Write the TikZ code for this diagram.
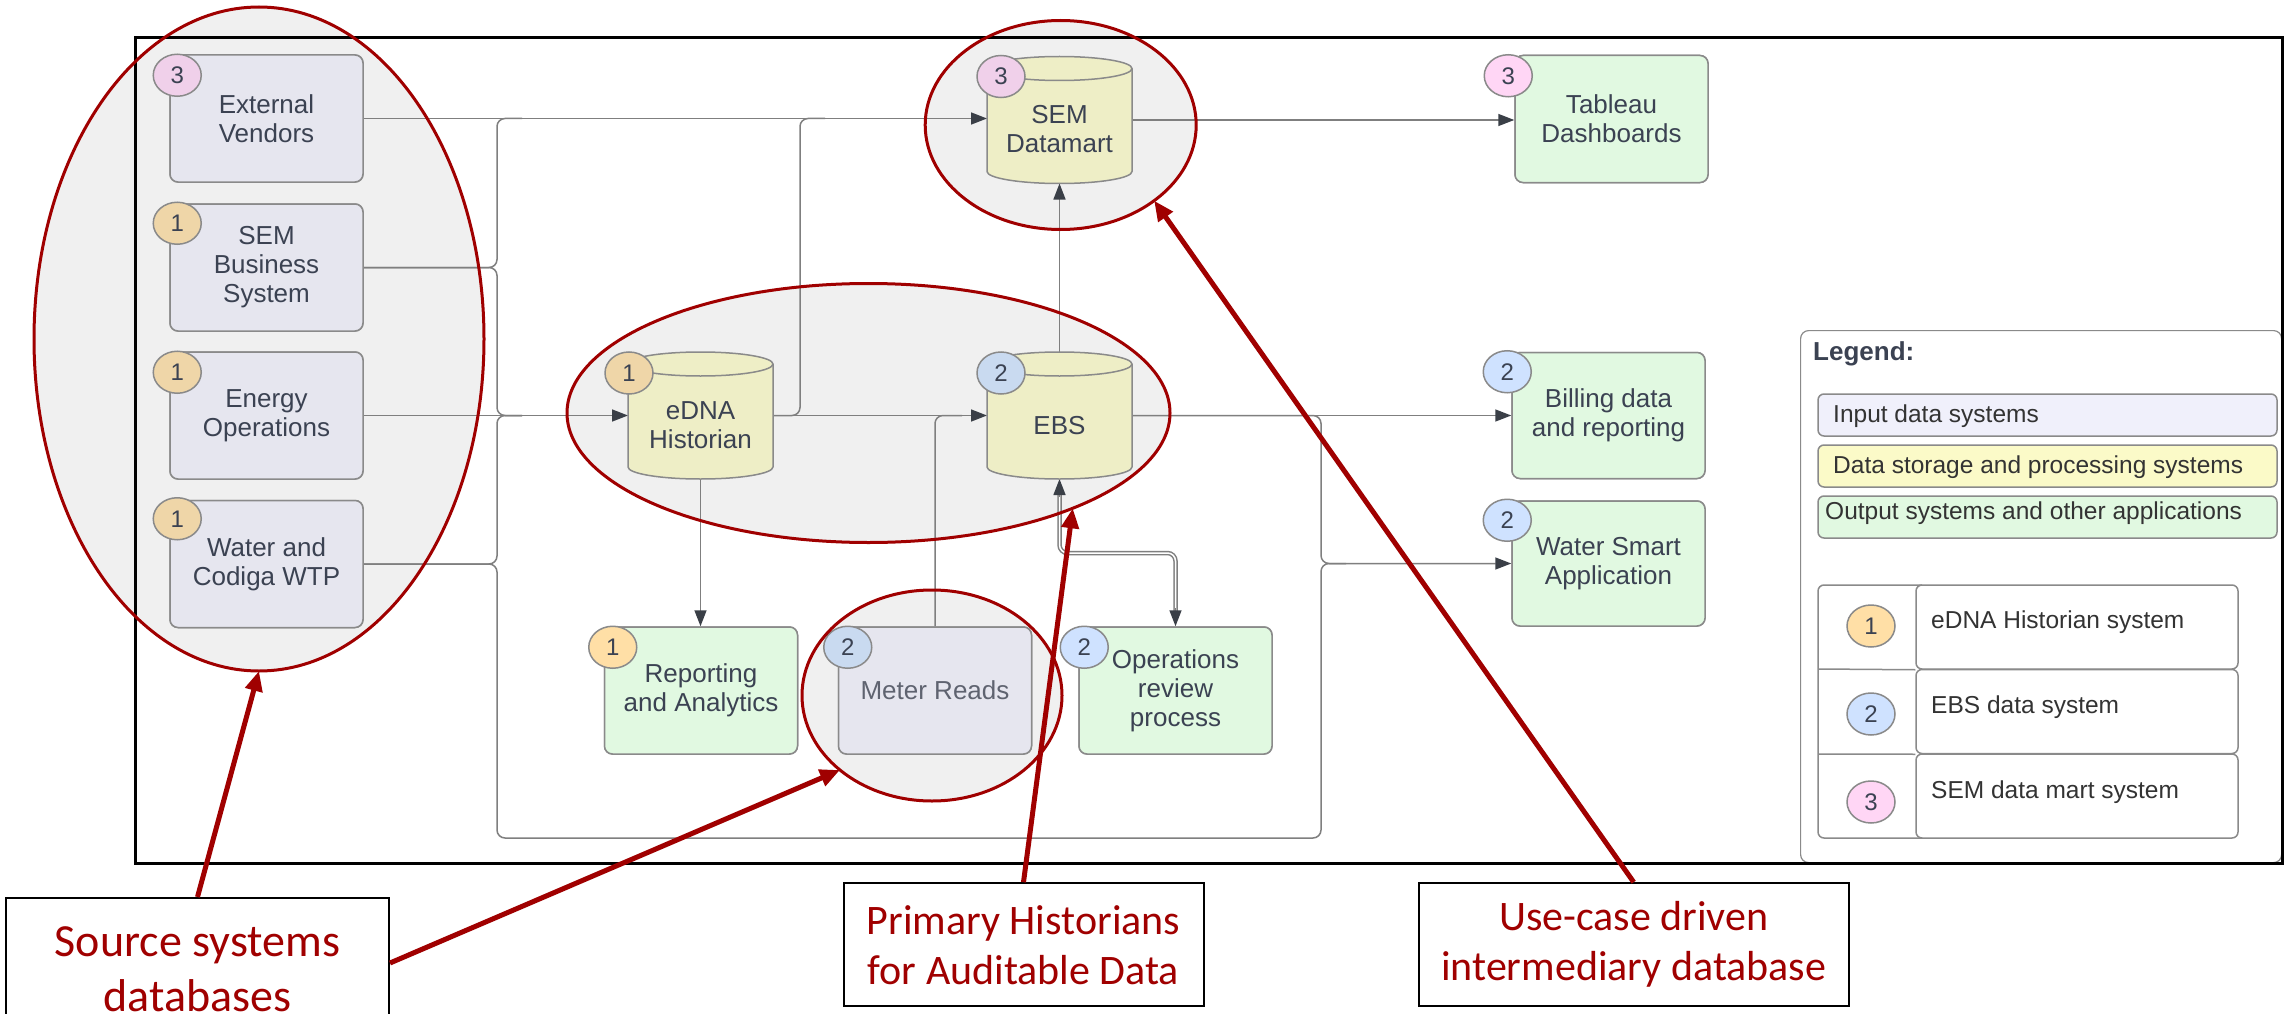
\documentclass[tikz,border=0pt]{standalone}
\usepackage{fontspec}
\setmainfont{Liberation Sans}
\newfontfamily\annfont{Carlito}
\usetikzlibrary{shapes.geometric,arrows.meta,calc}
\definecolor{ink}{HTML}{3B4252}
\definecolor{legink}{HTML}{333333}
\definecolor{mrink}{HTML}{5F6370}
\definecolor{lgray}{HTML}{7F7F7F}
\definecolor{bord}{HTML}{8A8A8A}
\definecolor{tipc}{HTML}{3A3F47}
\definecolor{dred}{HTML}{A00000}
\definecolor{ellfill}{HTML}{F0F0F0}
\definecolor{inpfill}{HTML}{E6E6EF}
\definecolor{cylfill}{HTML}{EEEEC6}
\definecolor{outfill}{HTML}{E1F9E1}
\definecolor{bOneA}{HTML}{EFD6A8}
\definecolor{bOneB}{HTML}{FFDFA6}
\definecolor{bTwoA}{HTML}{C9DAF0}
\definecolor{bTwoB}{HTML}{CFE2FF}
\definecolor{bThrA}{HTML}{F0D0EA}
\definecolor{bThrB}{HTML}{FFD6F5}
\definecolor{leginp}{HTML}{F0F0FB}
\definecolor{legdat}{HTML}{FBFAC8}
\tikzset{
  sysbox/.style={draw=bord, line width=1.5pt, rounded corners=8pt, minimum width=193pt, minimum height=127pt, inner sep=0pt, align=center, text=ink, font=\fontsize{26pt}{29pt}\selectfont},
  inbox/.style={sysbox, fill=inpfill},
  outbox/.style={sysbox, fill=outfill},
  cylnode/.style={minimum width=145pt, minimum height=127pt, inner sep=0pt, outer sep=0pt},
  cyltext/.style={align=center, text=ink, inner sep=0pt, font=\fontsize{26pt}{29pt}\selectfont},
  badge/.style={ellipse, draw=bord, line width=1.5pt, minimum width=48pt, minimum height=42pt, inner sep=0pt, text=ink, font=\fontsize{24pt}{24pt}\selectfont},
  region/.style={ellipse, fill=ellfill, inner sep=0pt, outer sep=0pt},
  redl/.style={draw=dred, line width=3pt},
  conn/.style={draw=lgray, line width=1.5pt, rounded corners=8pt},
  arr/.style={-{Triangle[length=16pt,width=12pt,color=tipc]}},
  annarr/.style={draw=dred, line width=5pt, -{Triangle[length=20pt,width=17pt]}},
  annbox/.style={draw=black, line width=2pt, fill=white, align=center, text=dred, inner sep=0pt},
  legrow/.style={draw=bord, line width=1.5pt, rounded corners=6pt, minimum width=459pt, minimum height=42pt, inner sep=0pt},
  legtxt/.style={anchor=west, inner sep=0pt, text=legink, font=\fontsize{24.5pt}{28pt}\selectfont},
  legcell/.style={draw=bord, line width=1.5pt, rounded corners=6pt, minimum width=322pt, minimum height=84pt, inner sep=0pt}
}
\newcommand\cylbody[1]{%
  \fill[cylfill] ($(#1.north west)+(0,12)$) -- ($(#1.south west)+(0,-12)$) arc[start angle=180,end angle=360,x radius=72.5pt,y radius=12pt] -- ($(#1.north east)+(0,12)$) arc[start angle=0,end angle=180,x radius=72.5pt,y radius=12pt] -- cycle;
  \draw[bord,line width=1.5pt] ($(#1.north west)+(0,12)$) -- ($(#1.south west)+(0,-12)$) arc[start angle=180,end angle=360,x radius=72.5pt,y radius=12pt] -- ($(#1.north east)+(0,12)$);
  \draw[bord,line width=1.5pt,fill=cylfill] ($(#1.north)+(0,12)$) ellipse[x radius=72.5pt,y radius=12pt];
}
\begin{document}
\begin{tikzpicture}[x=1pt,y=-1pt]
\useasboundingbox (0,0) rectangle (2292,1014);
\clip (0,0) rectangle (2292,1014);
\fill[white] (0,0) rectangle (2292,1014);
% grey highlight regions
\node[region, minimum width=450pt, minimum height=664pt] (lell) at (259,339) {};
\node[region, minimum width=603pt, minimum height=259pt] (midell) at (868.5,413) {};
\node[region, minimum width=271pt, minimum height=209pt] (semell) at (1060.7,125) {};
\node[region, minimum width=260pt, minimum height=211pt] (mrell) at (932,695.5) {};
% legend panel and frame
\node[draw=bord, line width=1.2pt, rounded corners=8pt, minimum width=481pt, minimum height=532pt, inner sep=0pt, anchor=north west] (legend) at (1800,330) {};
\node[draw=black, line width=3pt, minimum width=2147pt, minimum height=826pt, inner sep=0pt, anchor=north west] (frame) at (134,36) {};
% nodes (placed first, drawn on top later via ordering of fills)
\node[inbox] (ev) at (266.5,118.5) {External\\Vendors};
\node[inbox] (sbs) at (266.5,267.5) {SEM\\Business\\System};
\node[inbox] (eo) at (266.5,415.5) {Energy\\Operations};
\node[inbox] (wc) at (266.5,564) {Water and\\Codiga WTP};
\node[cylnode] (sem) at (1059.5,120) {};
\node[cylnode] (edna) at (700.5,415.5) {};
\node[cylnode] (ebs) at (1059.5,415.5) {};
\coordinate (bl) at (497,0);
\coordinate (br) at (1321,0);
\coordinate (bx) at (800,0);
\coordinate (bot) at (0,838);
\node[outbox] (tab) at (1611.5,119) {Tableau\\Dashboards};
\node[outbox, minimum height=126pt] (bill) at (1608.5,415.5) {Billing data\\and reporting};
\node[outbox, minimum height=125pt] (ws) at (1608.5,563.5) {Water Smart\\Application};
\node[outbox] (ra) at (701,690.5) {Reporting\\and Analytics};
\node[inbox, text=mrink] (mr) at (935,690.5) {Meter Reads};
\node[outbox] (ops) at (1175.5,690.5) {Operations\\review\\process};
% connectors
\draw[conn,arr] (ev.east) -- (ev.east -| sem.west);
\draw[conn] (sbs.east) -| (bl |- ev.east) -- ++(25,0);
\draw[conn] (sbs.east) -| (bl |- eo.east) -- ++(25,0);
\draw[conn,arr] (eo.east) -- (edna.west);
\draw[conn] (wc.east) -| (bl |- eo.east) -- ++(25,0);
\draw[conn,arr] (wc.east) -| (bl |- bot) -| (br |- ws.west) -- (ws.west);
\draw[conn] (edna.east) -| (bx |- ev.east) -- ++(25,0);
\draw[conn,arr] (edna.east) -- (ebs.west);
\draw[conn] (mr.north) |- ($(ebs.west)+(-25,0)$);
\draw[conn,arr] (ebs.east) -- (bill.west);
\draw[conn] (ebs.east) -| (br |- ws.west) -- ++(25,0);
\draw[conn,arr] (ebs.north) -- (sem.south);
\draw[conn,arr] (sem.east) -- (sem.east -| tab.west);
\draw[conn,arr] (edna.south) -- (edna.south |- ra.north);
\draw[lgray, line width=4.5pt, rounded corners=8pt, shorten <=15pt, shorten >=15pt] (ebs.south) -- ++(0,74) -| (ops.north);
\draw[white, line width=1.5pt, rounded corners=8pt, shorten <=13pt, shorten >=13pt] (ebs.south) -- ++(0,74) -| (ops.north);
\draw[conn,arr] ($(ebs.south)+(0,18)$) -- (ebs.south);
\draw[conn,arr] ($(ops.north)+(0,-18)$) -- (ops.north);
% redraw boxes on top of connectors
\node[inbox] at (ev) {External\\Vendors};
\node[inbox] at (sbs) {SEM\\Business\\System};
\node[inbox] at (eo) {Energy\\Operations};
\node[inbox] at (wc) {Water and\\Codiga WTP};
\node[outbox] at (tab) {Tableau\\Dashboards};
\node[outbox, minimum height=126pt] at (bill) {Billing data\\and reporting};
\node[outbox, minimum height=125pt] at (ws) {Water Smart\\Application};
\node[outbox] at (ra) {Reporting\\and Analytics};
\node[inbox, text=mrink] at (mr) {Meter Reads};
\node[outbox] at (ops) {Operations\\review\\process};
\cylbody{sem}
\cylbody{edna}
\cylbody{ebs}
\node[cyltext] (semt) at ($(sem.center)+(0,9)$) {SEM\\Datamart};
\node[cyltext] (ednat) at ($(edna.center)+(0,10)$) {eDNA\\Historian};
\node[cyltext] (ebst) at ($(ebs.center)+(0,10)$) {EBS};
% badges
\node[badge, fill=bThrA] (bev) at ($(ev.north west)+(8,21)$) {3};
\node[badge, fill=bOneA] (bsbs) at ($(sbs.north west)+(8,20)$) {1};
\node[badge, fill=bOneA] (beo) at ($(eo.north west)+(8,21)$) {1};
\node[badge, fill=bOneA] (bwc) at ($(wc.north west)+(8,19)$) {1};
\node[badge, fill=bThrA] (bsem) at ($(sem.north west)+(14,20)$) {3};
\node[badge, fill=bOneA] (bedna) at ($(edna.north west)+(1,21)$) {1};
\node[badge, fill=bTwoA] (bebs) at ($(ebs.north west)+(14,21)$) {2};
\node[badge, fill=bThrB] (btab) at ($(tab.north west)+(-6,21)$) {3};
\node[badge, fill=bTwoB] (bbill) at ($(bill.north west)+(-4,20)$) {2};
\node[badge, fill=bTwoB] (bws) at ($(ws.north west)+(-4,20)$) {2};
\node[badge, fill=bOneB] (bra) at ($(ra.north west)+(9,21)$) {1};
\node[badge, fill=bTwoA] (bmr) at ($(mr.north west)+(10,21)$) {2};
\node[badge, fill=bTwoB] (bops) at ($(ops.north west)+(6,21)$) {2};
% legend content
\node[anchor=west, inner sep=0pt, text=ink, font=\bfseries\fontsize{26pt}{26pt}\selectfont] (legt) at (1813,354) {Legend:};
\node[legrow, fill=leginp] (lin) at (2047.5,415) {};
\node[legrow, fill=legdat] (ldat) at (2047.5,466) {};
\node[legrow, fill=outfill] (lout) at (2047.5,517) {};
\node[legtxt] (lintx) at (1833,416) {Input data systems};
\node[legtxt] (ldattx) at (1833,467) {Data storage and processing systems};
\node[legtxt] (louttx) at (1825,513) {Output systems and other applications};
\draw[bord, line width=1.5pt, rounded corners=6pt] (1922,585) -- (1818,585) -- (1818,838) -- (1922,838);
\node[legcell] (lc1) at (2077,627) {};
\node[legcell] (lc2) at (2077,711.5) {};
\node[legcell] (lc3) at (2077,796) {};
\draw[bord, line width=1.5pt] (1818,669) -- (lc1.south west);
\draw[bord, line width=1.5pt] (1818,754) -- (lc2.south west);
\node[badge, fill=bOneB] (lb1) at (1871,626) {1};
\node[badge, fill=bTwoB] (lb2) at (1871,714) {2};
\node[badge, fill=bThrB] (lb3) at (1871,802) {3};
\node[legtxt] (lt1) at (1931,621.7) {eDNA Historian system};
\node[legtxt] (lt2) at (1931,706.7) {EBS data system};
\node[legtxt] (lt3) at (1931,792) {SEM data mart system};
% red highlight outlines
\draw[redl] (lell.center) ellipse[x radius=225pt, y radius=332pt];
\draw[redl] (midell.center) ellipse[x radius=301.5pt, y radius=129.5pt];
\draw[redl] (semell.center) ellipse[x radius=135.5pt, y radius=104.5pt];
\draw[redl] (mrell.center) ellipse[x radius=130pt, y radius=105.5pt];
% annotations
\node[annbox, minimum width=383pt, minimum height=142pt, font=\annfont\fontsize{46pt}{55pt}\selectfont] (src) at (197.5,969) {Source systems\\databases};
\node[annbox, minimum width=360pt, minimum height=123pt, font=\annfont\fontsize{42pt}{50pt}\selectfont] (prim) at (1023.5,944.7) {Primary Historians\\for Auditable Data};
\node[annbox, minimum width=430pt, minimum height=123pt, font=\annfont\fontsize{42pt}{50pt}\selectfont] (use) at (1633.7,944.7) {Use-case driven\\intermediary database};
\draw[annarr] (src.north) -- (lell.south);
\draw[annarr] ([yshift=6pt]src.east) -- (mrell.219.6);
\draw[annarr] (prim.north) -- (midell.335.8);
\draw[annarr] (use.north) -- (semell.321.5);
\end{tikzpicture}
\end{document}
